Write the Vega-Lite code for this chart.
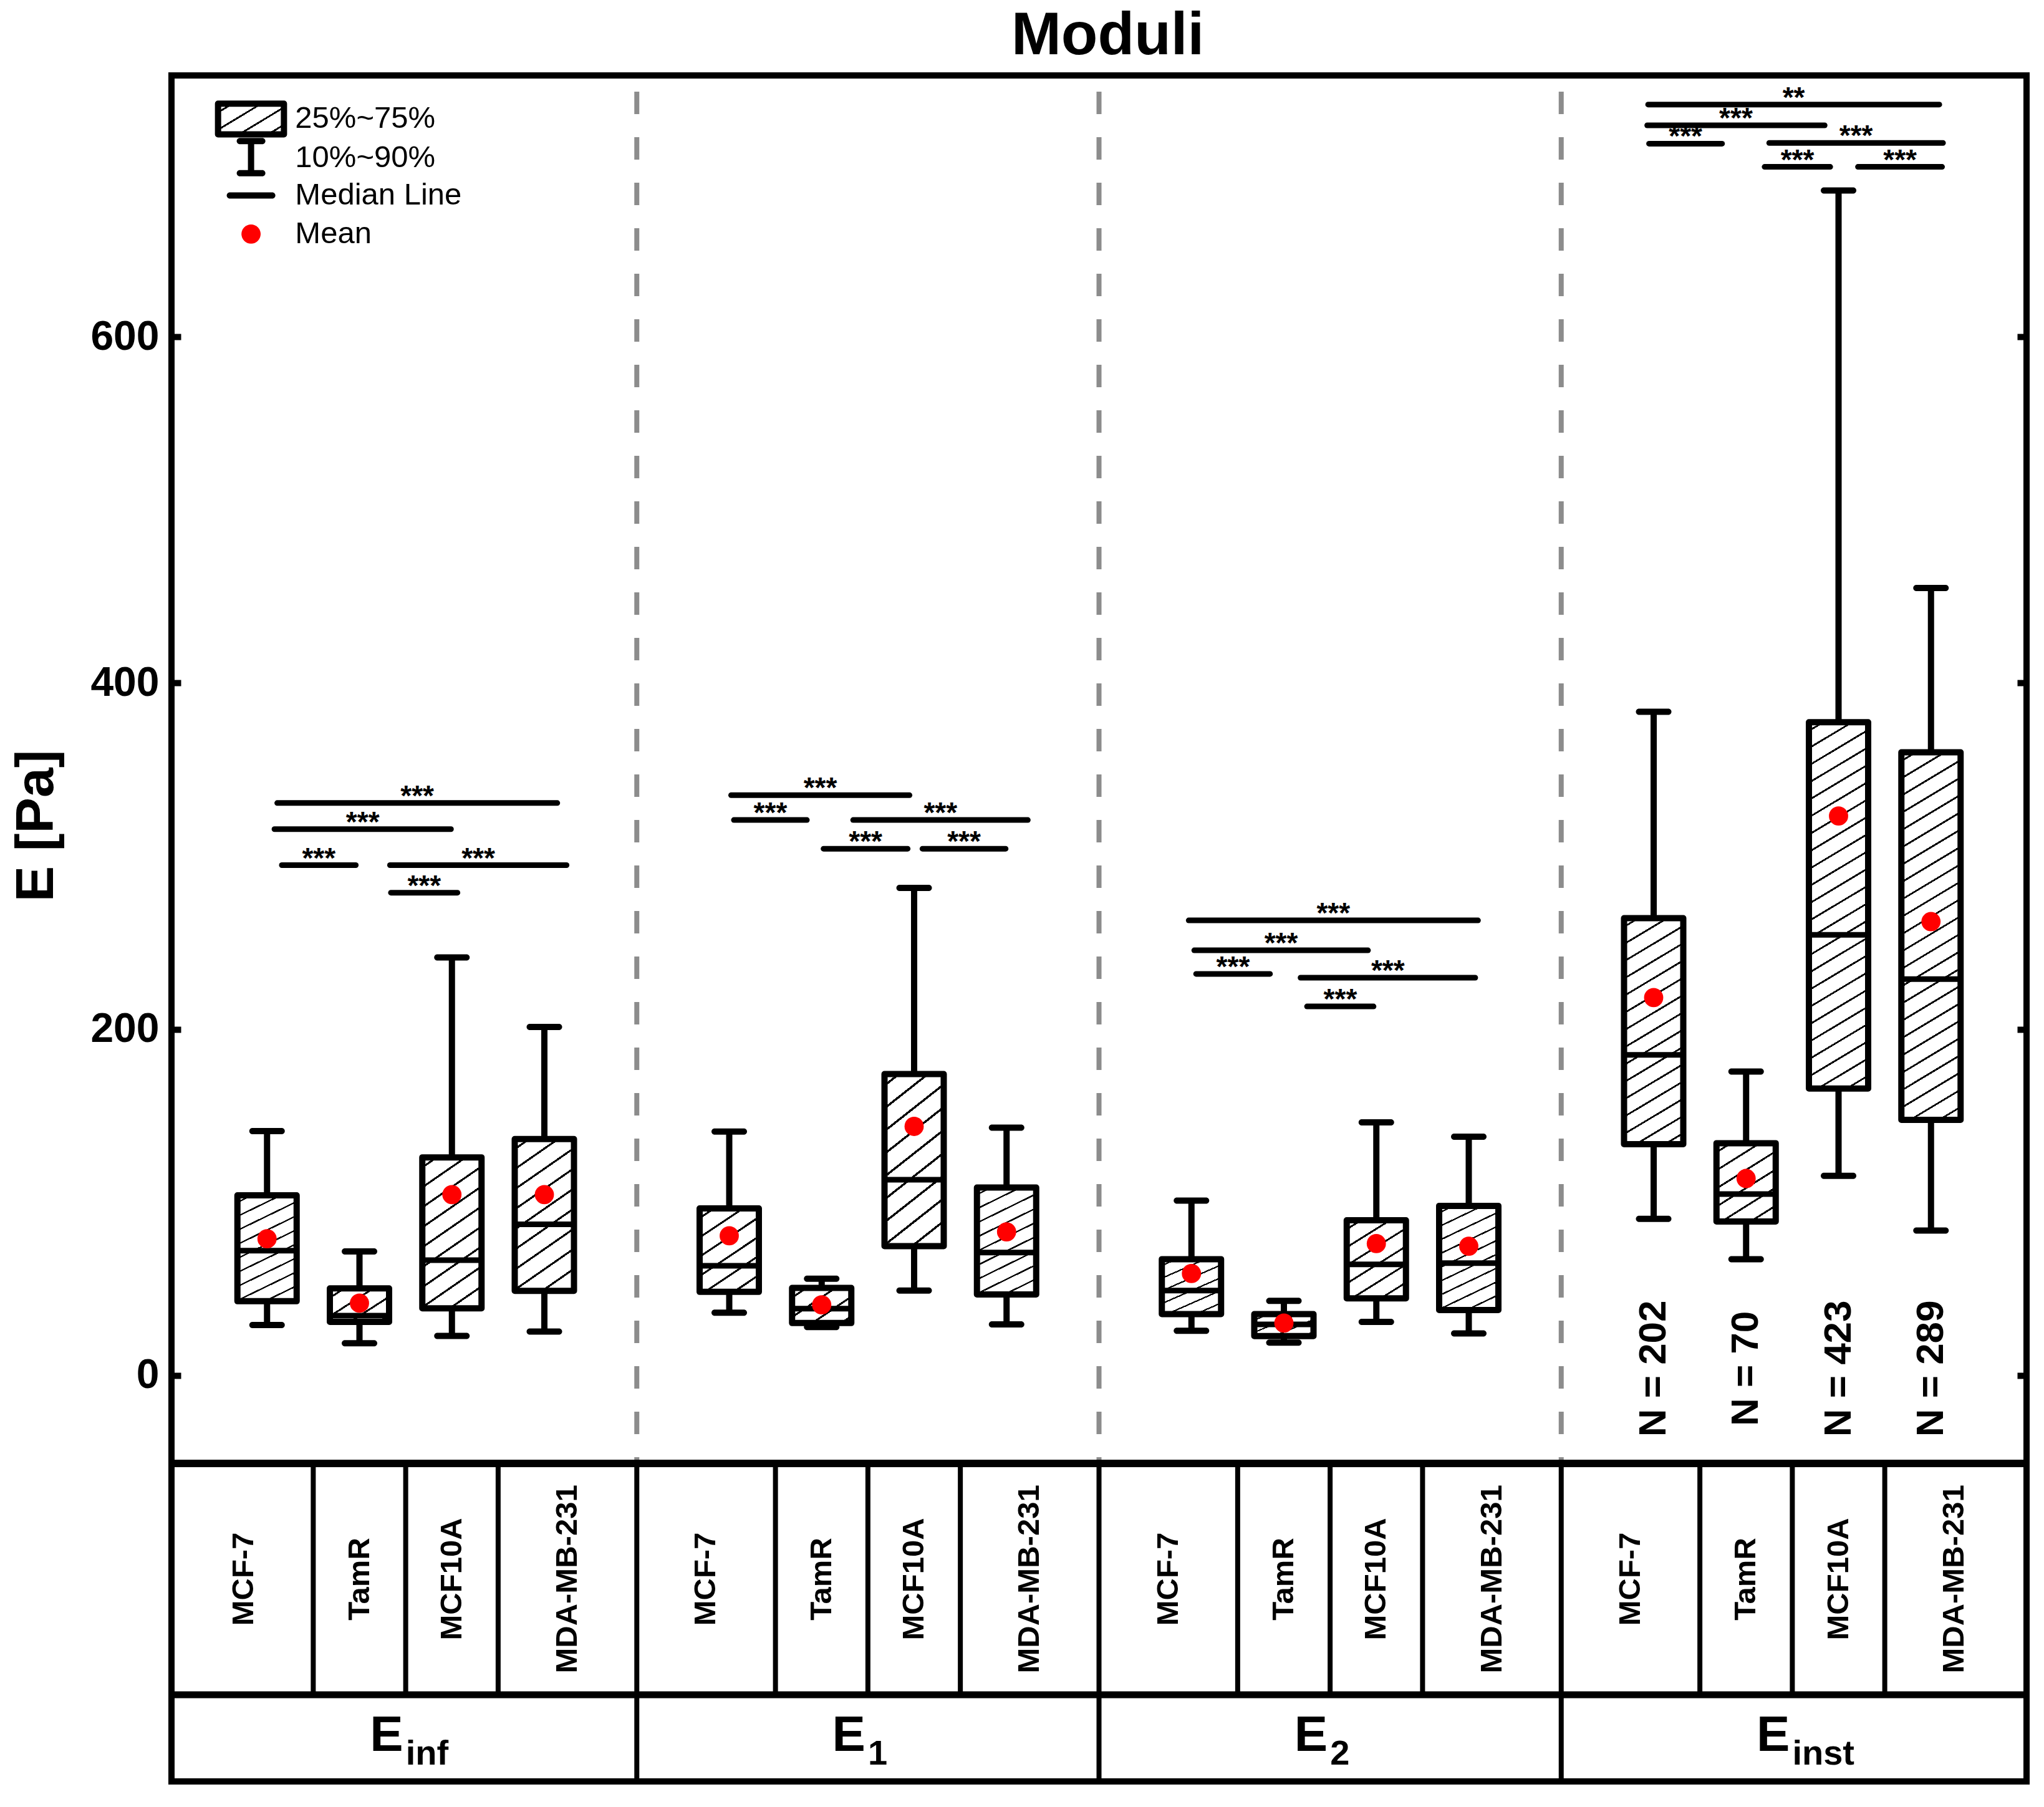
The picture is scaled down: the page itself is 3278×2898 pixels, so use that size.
{
"$schema": "https://vega.github.io/schema/vega-lite/v6.json",
"width": 2975, "height": 2736,
"autosize": {"type": "none"},
"padding": {"left": 275, "top": 121, "right": 28, "bottom": 41},
"background": "white",
"title": {"text": "Moduli", "fontSize": 96, "fontWeight": "bold", "font": "Liberation Sans", "anchor": "middle", "offset": 10, "dx": 14, "color": "black"},
"config": {"view": {"stroke": "black", "strokeWidth": 10}, "font": "Liberation Sans", "text": {"color": "black"}},
"resolve": {"axis": {"y": "independent"}},
"datasets": {
"boxes": [
{"group":"Einf","cell":"MCF-7","pos":1,"p10":29.2,"q1":42.9,"med":72.1,"q3":104.1,"p90":141.2,"mean":79.0},
{"group":"Einf","cell":"TamR","pos":2,"p10":18.6,"q1":31.0,"med":34.6,"q3":50.3,"p90":71.7,"mean":41.8},
{"group":"Einf","cell":"MCF10A","pos":3,"p10":22.9,"q1":38.8,"med":66.6,"q3":126.0,"p90":241.5,"mean":104.5},
{"group":"Einf","cell":"MDA-MB-231","pos":4,"p10":25.4,"q1":48.9,"med":87.3,"q3":136.6,"p90":201.3,"mean":104.5},
{"group":"E1","cell":"MCF-7","pos":6,"p10":36.3,"q1":48.3,"med":63.4,"q3":96.5,"p90":140.9,"mean":80.7},
{"group":"E1","cell":"TamR","pos":7,"p10":28.0,"q1":30.3,"med":38.6,"q3":50.6,"p90":55.9,"mean":40.8},
{"group":"E1","cell":"MCF10A","pos":8,"p10":49.1,"q1":74.7,"med":113.1,"q3":174.1,"p90":281.7,"mean":143.9},
{"group":"E1","cell":"MDA-MB-231","pos":9,"p10":29.5,"q1":46.8,"med":71.0,"q3":108.6,"p90":143.2,"mean":83.0},
{"group":"E2","cell":"MCF-7","pos":11,"p10":25.8,"q1":35.5,"med":49.1,"q3":67.2,"p90":101.0,"mean":58.9},
{"group":"E2","cell":"TamR","pos":12,"p10":19.0,"q1":22.8,"med":29.5,"q3":35.5,"p90":43.1,"mean":30.3},
{"group":"E2","cell":"MCF10A","pos":13,"p10":31.0,"q1":44.6,"med":64.2,"q3":89.7,"p90":146.2,"mean":76.2},
{"group":"E2","cell":"MDA-MB-231","pos":14,"p10":24.3,"q1":37.8,"med":64.9,"q3":98.0,"p90":137.9,"mean":74.7},
{"group":"Einst","cell":"MCF-7","pos":16,"p10":90.5,"q1":133.6,"med":185.2,"q3":264.2,"p90":383.4,"mean":218.3},
{"group":"Einst","cell":"TamR","pos":17,"p10":67.2,"q1":89.0,"med":104.8,"q3":134.2,"p90":175.6,"mean":113.8},
{"group":"Einst","cell":"MCF10A","pos":18,"p10":115.3,"q1":165.8,"med":254.6,"q3":377.4,"p90":684.5,"mean":323.2},
{"group":"Einst","cell":"MDA-MB-231","pos":19,"p10":83.7,"q1":147.7,"med":229.0,"q3":360.0,"p90":454.9,"mean":262.2}
],
"brackets": [
{"x1":1.11,"x2":4.14,"xm":2.625,"y":330.7,"stars":"***"},
{"x1":1.08,"x2":2.99,"xm":2.035,"y":315.6,"stars":"***"},
{"x1":1.16,"x2":1.96,"xm":1.56,"y":294.8,"stars":"***"},
{"x1":2.33,"x2":4.24,"xm":3.285,"y":294.8,"stars":"***"},
{"x1":2.34,"x2":3.06,"xm":2.7,"y":278.9,"stars":"***"},
{"x1":6.02,"x2":7.95,"xm":6.985,"y":335.2,"stars":"***"},
{"x1":6.05,"x2":6.84,"xm":6.445,"y":320.9,"stars":"***"},
{"x1":7.34,"x2":9.23,"xm":8.285,"y":320.9,"stars":"***"},
{"x1":7.02,"x2":7.93,"xm":7.475,"y":304.3,"stars":"***"},
{"x1":8.09,"x2":8.99,"xm":8.54,"y":304.3,"stars":"***"},
{"x1":10.97,"x2":14.1,"xm":12.535,"y":262.9,"stars":"***"},
{"x1":11.03,"x2":12.91,"xm":11.97,"y":245.6,"stars":"***"},
{"x1":11.05,"x2":11.85,"xm":11.45,"y":232.0,"stars":"***"},
{"x1":12.18,"x2":14.07,"xm":13.125,"y":229.8,"stars":"***"},
{"x1":12.25,"x2":12.97,"xm":12.61,"y":213.2,"stars":"***"},
{"x1":15.94,"x2":19.09,"xm":17.515,"y":734.2,"stars":"**"},
{"x1":15.93,"x2":17.85,"xm":16.89,"y":722.2,"stars":"***"},
{"x1":15.95,"x2":16.74,"xm":16.345,"y":711.6,"stars":"***"},
{"x1":17.25,"x2":19.13,"xm":18.19,"y":712.0,"stars":"***"},
{"x1":17.2,"x2":17.91,"xm":17.555,"y":698.2,"stars":"***"},
{"x1":18.21,"x2":19.12,"xm":18.665,"y":698.2,"stars":"***"}
],
"counts": [
{"pos":16,"label":"N = 202"},
{"pos":17,"label":"N = 70"},
{"pos":18,"label":"N = 423"},
{"pos":19,"label":"N = 289"}
],
"cells": [
{"group":"Einf","cell":"MCF-7","lo":0,"mid":0.75},
{"group":"Einf","cell":"TamR","lo":1.5,"mid":2},
{"group":"Einf","cell":"MCF10A","lo":2.5,"mid":3},
{"group":"Einf","cell":"MDA-MB-231","lo":3.5,"mid":4.25},
{"group":"E1","cell":"MCF-7","lo":5,"mid":5.75},
{"group":"E1","cell":"TamR","lo":6.5,"mid":7},
{"group":"E1","cell":"MCF10A","lo":7.5,"mid":8},
{"group":"E1","cell":"MDA-MB-231","lo":8.5,"mid":9.25},
{"group":"E2","cell":"MCF-7","lo":10,"mid":10.75},
{"group":"E2","cell":"TamR","lo":11.5,"mid":12},
{"group":"E2","cell":"MCF10A","lo":12.5,"mid":13},
{"group":"E2","cell":"MDA-MB-231","lo":13.5,"mid":14.25},
{"group":"Einst","cell":"MCF-7","lo":15,"mid":15.75},
{"group":"Einst","cell":"TamR","lo":16.5,"mid":17},
{"group":"Einst","cell":"MCF10A","lo":17.5,"mid":18},
{"group":"Einst","cell":"MDA-MB-231","lo":18.5,"mid":19.25}
],
"groups": [
{"group":"Einf","lo":0,"mid":2.5,"sub":"inf"},
{"group":"E1","lo":5,"mid":7.5,"sub":"1"},
{"group":"E2","lo":10,"mid":12.5,"sub":"2"},
{"group":"Einst","lo":15,"mid":17.5,"sub":"inst"}
],
"legend": [
{"label":"25%~75%","ly":726.0},
{"label":"10%~90%","ly":703.3},
{"label":"Median Line","ly":681.7},
{"label":"Mean","ly":659.4}
]
},
"layer": [
{"data":{"name":"groups"},"transform":[{"filter":"datum.lo > 0"}],
 "mark":{"type":"rule","color":"#8c8c8c","strokeWidth":8,"strokeDash":[36,37],"strokeDashOffset":47},
 "encoding":{"x":{"field":"lo","type":"quantitative","scale":{"domain":[0,20]},"axis":null},
  "y":{"datum":751,"type":"quantitative","scale":{"domain":[-234.5,751]},"axis":null},"y2":{"datum":-50.8}}},
{"data":{"name":"boxes"},
 "mark":{"type":"rule","strokeWidth":10,"color":"black"},
 "encoding":{"x":{"field":"pos","type":"quantitative","scale":{"domain":[0,20]},"axis":null},
  "y":{"field":"p10","type":"quantitative","scale":{"domain":[-234.5,751]},
   "axis":{"orient":"left","values":[0,200,400,600],"grid":false,"domain":false,"tickSize":-15,"tickWidth":10,"tickColor":"black","labelFontSize":66,"labelFont":"Liberation Sans","labelFontWeight":"bold","labelColor":"black","labelPadding":35,"labelOverlap":false,"labelFlush":false,"title":"E [Pa]","titleFontSize":86,"titleFont":"Liberation Sans","titleFontWeight":"bold","titleColor":"black","titleX":-217,"titleY":1203,"titleAngle":270,"titleAlign":"center","titleBaseline":"middle"}},
  "y2":{"field":"p90"}}},
{"data":{"name":"boxes"},
 "mark":{"type":"tick","orient":"horizontal","size":57,"thickness":10,"cornerRadius":5,"color":"black","opacity":1},
 "encoding":{"x":{"field":"pos","type":"quantitative","scale":{"domain":[0,20]},"axis":null},
  "y":{"field":"p10","type":"quantitative","scale":{"domain":[-234.5,751]},"axis":null}}},
{"data":{"name":"boxes"},
 "mark":{"type":"tick","orient":"horizontal","size":57,"thickness":10,"cornerRadius":5,"color":"black","opacity":1},
 "encoding":{"x":{"field":"pos","type":"quantitative","scale":{"domain":[0,20]},"axis":null},
  "y":{"field":"p90","type":"quantitative","scale":{"domain":[-234.5,751]},"axis":null}}},
{"data":{"name":"boxes"},"transform":[{"filter":"datum.q3 - datum.q1 < 25"}],
 "mark":{"type":"bar","orient":"vertical","width":95,"stroke":"black","strokeWidth":10,"strokeJoin":"round","opacity":1,
  "fill":{"gradient":"linear","x1":0,"y1":0,"x2":1.0609,"y2":0.9306,"stops":[
{"offset":0,"color":"#fff"},
{"offset":0.1143,"color":"#fff"},{"offset":0.1143,"color":"#000"},{"offset":0.1455,"color":"#000"},{"offset":0.1455,"color":"#fff"},
{"offset":0.374,"color":"#fff"},{"offset":0.374,"color":"#000"},{"offset":0.4052,"color":"#000"},{"offset":0.4052,"color":"#fff"},
{"offset":0.6338,"color":"#fff"},{"offset":0.6338,"color":"#000"},{"offset":0.6649,"color":"#000"},{"offset":0.6649,"color":"#fff"},
{"offset":0.8935,"color":"#fff"},{"offset":0.8935,"color":"#000"},{"offset":0.9247,"color":"#000"},{"offset":0.9247,"color":"#fff"},
{"offset":1,"color":"#fff"}]}},
 "encoding":{"x":{"field":"pos","type":"quantitative","scale":{"domain":[0,20]},"axis":null},
  "y":{"field":"q3","type":"quantitative","scale":{"domain":[-234.5,751]},"axis":null},"y2":{"field":"q1"}}},
{"data":{"name":"boxes"},"transform":[{"filter":"datum.q3 - datum.q1 >= 25 && datum.q3 - datum.q1 < 55"}],
 "mark":{"type":"bar","orient":"vertical","width":95,"stroke":"black","strokeWidth":10,"strokeJoin":"round","opacity":1,
  "fill":{"gradient":"linear","x1":0,"y1":0,"x2":0.5717,"y2":1.2035,"stops":[
{"offset":0,"color":"#fff"},
{"offset":0.0691,"color":"#fff"},{"offset":0.0691,"color":"#000"},{"offset":0.0879,"color":"#000"},{"offset":0.0879,"color":"#fff"},
{"offset":0.2261,"color":"#fff"},{"offset":0.2261,"color":"#000"},{"offset":0.2449,"color":"#000"},{"offset":0.2449,"color":"#fff"},
{"offset":0.3831,"color":"#fff"},{"offset":0.3831,"color":"#000"},{"offset":0.4019,"color":"#000"},{"offset":0.4019,"color":"#fff"},
{"offset":0.5401,"color":"#fff"},{"offset":0.5401,"color":"#000"},{"offset":0.5589,"color":"#000"},{"offset":0.5589,"color":"#fff"},
{"offset":0.6971,"color":"#fff"},{"offset":0.6971,"color":"#000"},{"offset":0.7159,"color":"#000"},{"offset":0.7159,"color":"#fff"},
{"offset":0.8541,"color":"#fff"},{"offset":0.8541,"color":"#000"},{"offset":0.8729,"color":"#000"},{"offset":0.8729,"color":"#fff"},
{"offset":1,"color":"#fff"}]}},
 "encoding":{"x":{"field":"pos","type":"quantitative","scale":{"domain":[0,20]},"axis":null},
  "y":{"field":"q3","type":"quantitative","scale":{"domain":[-234.5,751]},"axis":null},"y2":{"field":"q1"}}},
{"data":{"name":"boxes"},"transform":[{"filter":"datum.q3 - datum.q1 >= 55 && datum.q3 - datum.q1 < 100"}],
 "mark":{"type":"bar","orient":"vertical","width":95,"stroke":"black","strokeWidth":10,"strokeJoin":"round","opacity":1,
  "fill":{"gradient":"linear","x1":0,"y1":0,"x2":0.3214,"y2":1.1842,"stops":[
{"offset":0,"color":"#fff"},
{"offset":0.0458,"color":"#fff"},{"offset":0.0458,"color":"#000"},{"offset":0.0583,"color":"#000"},{"offset":0.0583,"color":"#fff"},
{"offset":0.15,"color":"#fff"},{"offset":0.15,"color":"#000"},{"offset":0.1625,"color":"#000"},{"offset":0.1625,"color":"#fff"},
{"offset":0.2542,"color":"#fff"},{"offset":0.2542,"color":"#000"},{"offset":0.2667,"color":"#000"},{"offset":0.2667,"color":"#fff"},
{"offset":0.3583,"color":"#fff"},{"offset":0.3583,"color":"#000"},{"offset":0.3708,"color":"#000"},{"offset":0.3708,"color":"#fff"},
{"offset":0.4625,"color":"#fff"},{"offset":0.4625,"color":"#000"},{"offset":0.475,"color":"#000"},{"offset":0.475,"color":"#fff"},
{"offset":0.5667,"color":"#fff"},{"offset":0.5667,"color":"#000"},{"offset":0.5792,"color":"#000"},{"offset":0.5792,"color":"#fff"},
{"offset":0.6708,"color":"#fff"},{"offset":0.6708,"color":"#000"},{"offset":0.6833,"color":"#000"},{"offset":0.6833,"color":"#fff"},
{"offset":0.775,"color":"#fff"},{"offset":0.775,"color":"#000"},{"offset":0.7875,"color":"#000"},{"offset":0.7875,"color":"#fff"},
{"offset":0.8792,"color":"#fff"},{"offset":0.8792,"color":"#000"},{"offset":0.8917,"color":"#000"},{"offset":0.8917,"color":"#fff"},
{"offset":0.9833,"color":"#fff"},{"offset":0.9833,"color":"#000"},{"offset":0.9958,"color":"#000"},{"offset":0.9958,"color":"#fff"},
{"offset":1,"color":"#fff"}]}},
 "encoding":{"x":{"field":"pos","type":"quantitative","scale":{"domain":[0,20]},"axis":null},
  "y":{"field":"q3","type":"quantitative","scale":{"domain":[-234.5,751]},"axis":null},"y2":{"field":"q1"}}},
{"data":{"name":"boxes"},"transform":[{"filter":"datum.q3 - datum.q1 >= 100 && datum.q3 - datum.q1 < 170"}],
 "mark":{"type":"bar","orient":"vertical","width":95,"stroke":"black","strokeWidth":10,"strokeJoin":"round","opacity":1,
  "fill":{"gradient":"linear","x1":0,"y1":0,"x2":0.1768,"y2":1.1289,"stops":[
{"offset":0,"color":"#fff"},
{"offset":0.0291,"color":"#fff"},{"offset":0.0291,"color":"#000"},{"offset":0.037,"color":"#000"},{"offset":0.037,"color":"#fff"},
{"offset":0.0951,"color":"#fff"},{"offset":0.0951,"color":"#000"},{"offset":0.103,"color":"#000"},{"offset":0.103,"color":"#fff"},
{"offset":0.1612,"color":"#fff"},{"offset":0.1612,"color":"#000"},{"offset":0.1691,"color":"#000"},{"offset":0.1691,"color":"#fff"},
{"offset":0.2272,"color":"#fff"},{"offset":0.2272,"color":"#000"},{"offset":0.2351,"color":"#000"},{"offset":0.2351,"color":"#fff"},
{"offset":0.2933,"color":"#fff"},{"offset":0.2933,"color":"#000"},{"offset":0.3012,"color":"#000"},{"offset":0.3012,"color":"#fff"},
{"offset":0.3593,"color":"#fff"},{"offset":0.3593,"color":"#000"},{"offset":0.3672,"color":"#000"},{"offset":0.3672,"color":"#fff"},
{"offset":0.4254,"color":"#fff"},{"offset":0.4254,"color":"#000"},{"offset":0.4333,"color":"#000"},{"offset":0.4333,"color":"#fff"},
{"offset":0.4914,"color":"#fff"},{"offset":0.4914,"color":"#000"},{"offset":0.4993,"color":"#000"},{"offset":0.4993,"color":"#fff"},
{"offset":0.5575,"color":"#fff"},{"offset":0.5575,"color":"#000"},{"offset":0.5654,"color":"#000"},{"offset":0.5654,"color":"#fff"},
{"offset":0.6235,"color":"#fff"},{"offset":0.6235,"color":"#000"},{"offset":0.6314,"color":"#000"},{"offset":0.6314,"color":"#fff"},
{"offset":0.6896,"color":"#fff"},{"offset":0.6896,"color":"#000"},{"offset":0.6975,"color":"#000"},{"offset":0.6975,"color":"#fff"},
{"offset":0.7556,"color":"#fff"},{"offset":0.7556,"color":"#000"},{"offset":0.7635,"color":"#000"},{"offset":0.7635,"color":"#fff"},
{"offset":0.8217,"color":"#fff"},{"offset":0.8217,"color":"#000"},{"offset":0.8296,"color":"#000"},{"offset":0.8296,"color":"#fff"},
{"offset":0.8877,"color":"#fff"},{"offset":0.8877,"color":"#000"},{"offset":0.8956,"color":"#000"},{"offset":0.8956,"color":"#fff"},
{"offset":0.9538,"color":"#fff"},{"offset":0.9538,"color":"#000"},{"offset":0.9617,"color":"#000"},{"offset":0.9617,"color":"#fff"},
{"offset":1,"color":"#fff"}]}},
 "encoding":{"x":{"field":"pos","type":"quantitative","scale":{"domain":[0,20]},"axis":null},
  "y":{"field":"q3","type":"quantitative","scale":{"domain":[-234.5,751]},"axis":null},"y2":{"field":"q1"}}},
{"data":{"name":"boxes"},"transform":[{"filter":"datum.q3 - datum.q1 >= 170"}],
 "mark":{"type":"bar","orient":"vertical","width":95,"stroke":"black","strokeWidth":10,"strokeJoin":"round","opacity":1,
  "fill":{"gradient":"linear","x1":0,"y1":0,"x2":0.10515,"y2":1.08659,"stops":[
{"offset":0,"color":"#fff"},
{"offset":0.0189,"color":"#fff"},{"offset":0.0189,"color":"#000"},{"offset":0.0241,"color":"#000"},{"offset":0.0241,"color":"#fff"},
{"offset":0.062,"color":"#fff"},{"offset":0.062,"color":"#000"},{"offset":0.0671,"color":"#000"},{"offset":0.0671,"color":"#fff"},
{"offset":0.105,"color":"#fff"},{"offset":0.105,"color":"#000"},{"offset":0.1101,"color":"#000"},{"offset":0.1101,"color":"#fff"},
{"offset":0.148,"color":"#fff"},{"offset":0.148,"color":"#000"},{"offset":0.1532,"color":"#000"},{"offset":0.1532,"color":"#fff"},
{"offset":0.191,"color":"#fff"},{"offset":0.191,"color":"#000"},{"offset":0.1962,"color":"#000"},{"offset":0.1962,"color":"#fff"},
{"offset":0.2341,"color":"#fff"},{"offset":0.2341,"color":"#000"},{"offset":0.2392,"color":"#000"},{"offset":0.2392,"color":"#fff"},
{"offset":0.2771,"color":"#fff"},{"offset":0.2771,"color":"#000"},{"offset":0.2822,"color":"#000"},{"offset":0.2822,"color":"#fff"},
{"offset":0.3201,"color":"#fff"},{"offset":0.3201,"color":"#000"},{"offset":0.3253,"color":"#000"},{"offset":0.3253,"color":"#fff"},
{"offset":0.3632,"color":"#fff"},{"offset":0.3632,"color":"#000"},{"offset":0.3683,"color":"#000"},{"offset":0.3683,"color":"#fff"},
{"offset":0.4062,"color":"#fff"},{"offset":0.4062,"color":"#000"},{"offset":0.4113,"color":"#000"},{"offset":0.4113,"color":"#fff"},
{"offset":0.4492,"color":"#fff"},{"offset":0.4492,"color":"#000"},{"offset":0.4544,"color":"#000"},{"offset":0.4544,"color":"#fff"},
{"offset":0.4922,"color":"#fff"},{"offset":0.4922,"color":"#000"},{"offset":0.4974,"color":"#000"},{"offset":0.4974,"color":"#fff"},
{"offset":0.5353,"color":"#fff"},{"offset":0.5353,"color":"#000"},{"offset":0.5404,"color":"#000"},{"offset":0.5404,"color":"#fff"},
{"offset":0.5783,"color":"#fff"},{"offset":0.5783,"color":"#000"},{"offset":0.5835,"color":"#000"},{"offset":0.5835,"color":"#fff"},
{"offset":0.6213,"color":"#fff"},{"offset":0.6213,"color":"#000"},{"offset":0.6265,"color":"#000"},{"offset":0.6265,"color":"#fff"},
{"offset":0.6644,"color":"#fff"},{"offset":0.6644,"color":"#000"},{"offset":0.6695,"color":"#000"},{"offset":0.6695,"color":"#fff"},
{"offset":0.7074,"color":"#fff"},{"offset":0.7074,"color":"#000"},{"offset":0.7125,"color":"#000"},{"offset":0.7125,"color":"#fff"},
{"offset":0.7504,"color":"#fff"},{"offset":0.7504,"color":"#000"},{"offset":0.7556,"color":"#000"},{"offset":0.7556,"color":"#fff"},
{"offset":0.7935,"color":"#fff"},{"offset":0.7935,"color":"#000"},{"offset":0.7986,"color":"#000"},{"offset":0.7986,"color":"#fff"},
{"offset":0.8365,"color":"#fff"},{"offset":0.8365,"color":"#000"},{"offset":0.8416,"color":"#000"},{"offset":0.8416,"color":"#fff"},
{"offset":0.8795,"color":"#fff"},{"offset":0.8795,"color":"#000"},{"offset":0.8847,"color":"#000"},{"offset":0.8847,"color":"#fff"},
{"offset":0.9226,"color":"#fff"},{"offset":0.9226,"color":"#000"},{"offset":0.9277,"color":"#000"},{"offset":0.9277,"color":"#fff"},
{"offset":0.9656,"color":"#fff"},{"offset":0.9656,"color":"#000"},{"offset":0.9707,"color":"#000"},{"offset":0.9707,"color":"#fff"},
{"offset":1,"color":"#fff"}]}},
 "encoding":{"x":{"field":"pos","type":"quantitative","scale":{"domain":[0,20]},"axis":null},
  "y":{"field":"q3","type":"quantitative","scale":{"domain":[-234.5,751]},"axis":null},"y2":{"field":"q1"}}},
{"data":{"name":"boxes"},
 "mark":{"type":"tick","orient":"horizontal","size":96,"thickness":9,"color":"black","opacity":1},
 "encoding":{"x":{"field":"pos","type":"quantitative","scale":{"domain":[0,20]},"axis":null},
  "y":{"field":"med","type":"quantitative","scale":{"domain":[-234.5,751]},
   "axis":{"orient":"right","values":[0,200,400,600],"labels":false,"domain":false,"grid":false,"tickSize":-15,"tickWidth":10,"tickColor":"black","title":null}}}},
{"data":{"name":"boxes"},
 "mark":{"type":"point","filled":true,"color":"#ff0000","size":950,"opacity":1,"strokeWidth":0},
 "encoding":{"x":{"field":"pos","type":"quantitative","scale":{"domain":[0,20]},"axis":null},
  "y":{"field":"mean","type":"quantitative","scale":{"domain":[-234.5,751]},"axis":null}}},
{"data":{"name":"brackets"},
 "mark":{"type":"rule","strokeWidth":9,"strokeCap":"round","color":"black"},
 "encoding":{"x":{"field":"x1","type":"quantitative","scale":{"domain":[0,20]},"axis":null},"x2":{"field":"x2"},
  "y":{"field":"y","type":"quantitative","scale":{"domain":[-234.5,751]},"axis":null}}},
{"data":{"name":"brackets"},
 "mark":{"type":"text","fontSize":46,"fontWeight":"bold","font":"Liberation Sans","align":"center","baseline":"alphabetic","dy":4,"color":"black"},
 "encoding":{"x":{"field":"xm","type":"quantitative","scale":{"domain":[0,20]},"axis":null},
  "y":{"field":"y","type":"quantitative","scale":{"domain":[-234.5,751]},"axis":null},"text":{"field":"stars"}}},
{"data":{"name":"counts"},
 "mark":{"type":"text","fontSize":62,"fontWeight":"bold","font":"Liberation Sans","angle":270,"align":"center","baseline":"middle","color":"black"},
 "encoding":{"x":{"field":"pos","type":"quantitative","scale":{"domain":[0,20]},"axis":null},
  "y":{"datum":4,"type":"quantitative","scale":{"domain":[-234.5,751]},"axis":null},"text":{"field":"label"}}},
{"data":{"values":[{}]},
 "mark":{"type":"rule","strokeWidth":12,"color":"black"},
 "encoding":{"x":{"datum":0,"type":"quantitative","scale":{"domain":[0,20]},"axis":null},"x2":{"datum":20},
  "y":{"datum":-50.8,"type":"quantitative","scale":{"domain":[-234.5,751]},"axis":null}}},
{"data":{"values":[{}]},
 "mark":{"type":"rule","strokeWidth":11,"color":"black"},
 "encoding":{"x":{"datum":0,"type":"quantitative","scale":{"domain":[0,20]},"axis":null},"x2":{"datum":20},
  "y":{"datum":-184.4,"type":"quantitative","scale":{"domain":[-234.5,751]},"axis":null}}},
{"data":{"name":"cells"},"transform":[{"filter":"datum.lo % 5 != 0"}],
 "mark":{"type":"rule","strokeWidth":8,"color":"black"},
 "encoding":{"x":{"field":"lo","type":"quantitative","scale":{"domain":[0,20]},"axis":null},
  "y":{"datum":-50.8,"type":"quantitative","scale":{"domain":[-234.5,751]},"axis":null},"y2":{"datum":-184.4}}},
{"data":{"name":"groups"},"transform":[{"filter":"datum.lo > 0"}],
 "mark":{"type":"rule","strokeWidth":8,"color":"black"},
 "encoding":{"x":{"field":"lo","type":"quantitative","scale":{"domain":[0,20]},"axis":null},
  "y":{"datum":-50.8,"type":"quantitative","scale":{"domain":[-234.5,751]},"axis":null},"y2":{"datum":-234.5}}},
{"data":{"name":"cells"},
 "mark":{"type":"text","fontSize":49,"fontWeight":"bold","font":"Liberation Sans","angle":270,"align":"center","baseline":"middle","color":"black"},
 "encoding":{"x":{"field":"mid","type":"quantitative","scale":{"domain":[0,20]},"axis":null},
  "y":{"datum":-117.6,"type":"quantitative","scale":{"domain":[-234.5,751]},"axis":null},"text":{"field":"cell"}}},
{"data":{"name":"groups"},
 "mark":{"type":"text","fontSize":80,"fontWeight":"bold","font":"Liberation Sans","align":"right","baseline":"alphabetic","dx":-4,"color":"black"},
 "encoding":{"x":{"field":"mid","type":"quantitative","scale":{"domain":[0,20]},"axis":null},
  "y":{"datum":-216.8,"type":"quantitative","scale":{"domain":[-234.5,751]},"axis":null},"text":{"value":"E"}}},
{"data":{"name":"groups"},
 "mark":{"type":"text","fontSize":56,"fontWeight":"bold","font":"Liberation Sans","align":"left","baseline":"alphabetic","dx":0,"color":"black"},
 "encoding":{"x":{"field":"mid","type":"quantitative","scale":{"domain":[0,20]},"axis":null},
  "y":{"datum":-224.7,"type":"quantitative","scale":{"domain":[-234.5,751]},"axis":null},"text":{"field":"sub"}}},
{"data":{"values":[{}]},
 "mark":{"type":"rect","stroke":"black","strokeWidth":10,"strokeJoin":"round",
  "fill":{"gradient":"linear","x1":0,"y1":0,"x2":1.111,"y2":0.856,"stops":[
{"offset":0,"color":"#fff"},
{"offset":0.1086,"color":"#fff"},{"offset":0.1086,"color":"#000"},{"offset":0.1383,"color":"#000"},{"offset":0.1383,"color":"#fff"},
{"offset":0.3556,"color":"#fff"},{"offset":0.3556,"color":"#000"},{"offset":0.3852,"color":"#000"},{"offset":0.3852,"color":"#fff"},
{"offset":0.6025,"color":"#fff"},{"offset":0.6025,"color":"#000"},{"offset":0.6321,"color":"#000"},{"offset":0.6321,"color":"#fff"},
{"offset":0.8494,"color":"#fff"},{"offset":0.8494,"color":"#000"},{"offset":0.879,"color":"#000"},{"offset":0.879,"color":"#fff"},
{"offset":1,"color":"#fff"}]}},
 "encoding":{"x":{"datum":0.47,"type":"quantitative","scale":{"domain":[0,20]},"axis":null},"x2":{"datum":1.183},
  "y":{"datum":734.7,"type":"quantitative","scale":{"domain":[-234.5,751]},"axis":null},"y2":{"datum":717.0}}},
{"data":{"values":[{}]},
 "mark":{"type":"rule","strokeWidth":10,"color":"black"},
 "encoding":{"x":{"datum":0.827,"type":"quantitative","scale":{"domain":[0,20]},"axis":null},
  "y":{"datum":714,"type":"quantitative","scale":{"domain":[-234.5,751]},"axis":null},"y2":{"datum":694.5}}},
{"data":{"values":[{}]},
 "mark":{"type":"tick","orient":"horizontal","size":46,"thickness":10,"cornerRadius":5,"color":"black","opacity":1},
 "encoding":{"x":{"datum":0.827,"type":"quantitative","scale":{"domain":[0,20]},"axis":null},
  "y":{"datum":713.1,"type":"quantitative","scale":{"domain":[-234.5,751]},"axis":null}}},
{"data":{"values":[{}]},
 "mark":{"type":"tick","orient":"horizontal","size":46,"thickness":10,"cornerRadius":5,"color":"black","opacity":1},
 "encoding":{"x":{"datum":0.827,"type":"quantitative","scale":{"domain":[0,20]},"axis":null},
  "y":{"datum":694.5,"type":"quantitative","scale":{"domain":[-234.5,751]},"axis":null}}},
{"data":{"values":[{}]},
 "mark":{"type":"tick","orient":"horizontal","size":78,"thickness":10,"cornerRadius":5,"color":"black","opacity":1},
 "encoding":{"x":{"datum":0.827,"type":"quantitative","scale":{"domain":[0,20]},"axis":null},
  "y":{"datum":681.7,"type":"quantitative","scale":{"domain":[-234.5,751]},"axis":null}}},
{"data":{"values":[{}]},
 "mark":{"type":"point","filled":true,"color":"#ff0000","size":950,"opacity":1,"strokeWidth":0},
 "encoding":{"x":{"datum":0.827,"type":"quantitative","scale":{"domain":[0,20]},"axis":null},
  "y":{"datum":659.4,"type":"quantitative","scale":{"domain":[-234.5,751]},"axis":null}}},
{"data":{"name":"legend"},
 "mark":{"type":"text","fontSize":49,"font":"Liberation Sans","align":"left","baseline":"middle","color":"black"},
 "encoding":{"x":{"datum":1.304,"type":"quantitative","scale":{"domain":[0,20]},"axis":null},
  "y":{"field":"ly","type":"quantitative","scale":{"domain":[-234.5,751]},"axis":null},"text":{"field":"label"}}}
]
}
